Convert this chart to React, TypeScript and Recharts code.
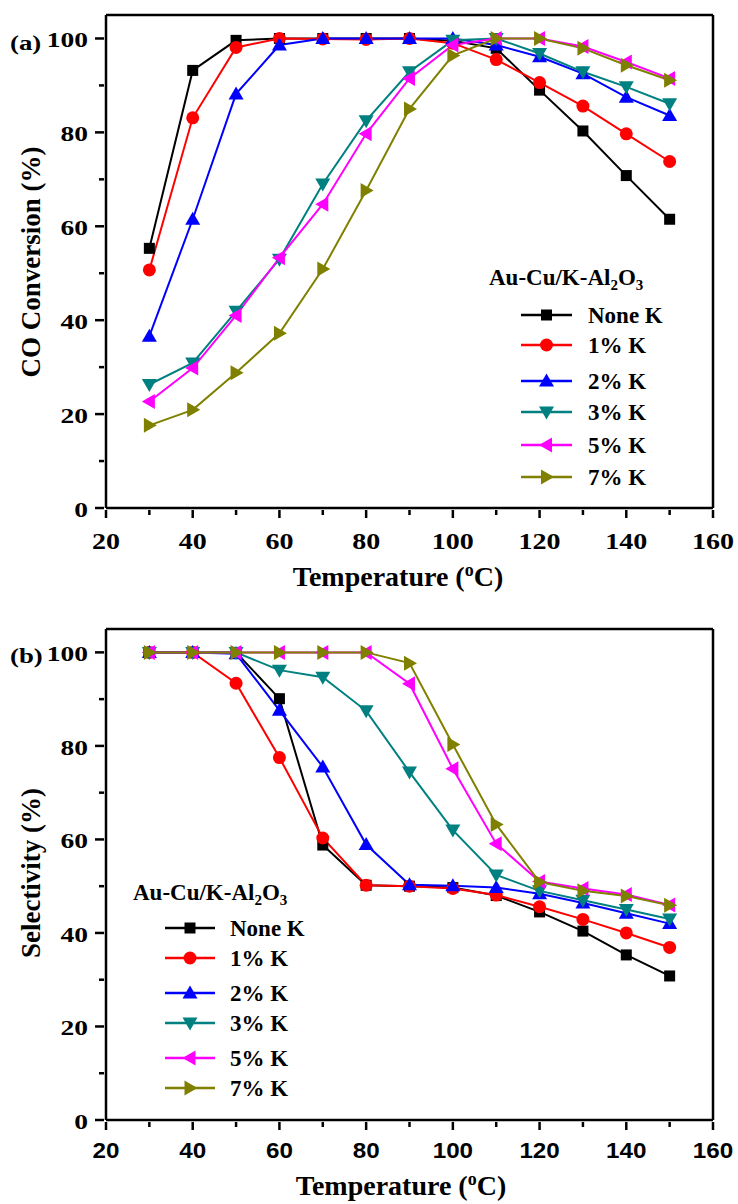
import React from 'react'
import { LineChart, Line, XAxis, YAxis, ReferenceLine } from 'recharts'

const temps = [30, 40, 50, 60, 70, 80, 90, 100, 110, 120, 130, 140, 150]
const xTicks = [20, 30, 40, 50, 60, 70, 80, 90, 100, 110, 120, 130, 140, 150, 160]
const yTicks = [0, 10, 20, 30, 40, 50, 60, 70, 80, 90, 100]

const seriesNames = ['None K', '1% K', '2% K', '3% K', '5% K', '7% K']
const seriesColors = ['#000000', '#ff0000', '#0000ff', '#008080', '#ff00ff', '#808000']
const seriesShapes = ['square', 'circle', 'up', 'down', 'left', 'right']

// (a) CO conversion, %
const convNoneK = [55.3, 93.2, 99.6, 100, 100, 100, 100, 99.5, 97.9, 89, 80.3, 70.8, 61.5]
const conv1K = [50.7, 83.1, 98.1, 100, 99.9, 99.8, 100, 99, 95.5, 90.6, 85.6, 79.7, 73.8]
const conv2K = [36.6, 61.5, 88.2, 98.6, 100, 100, 100, 100, 98.6, 96.1, 92.5, 87.5, 83.6]
const conv3K = [26.3, 30.9, 41.9, 53, 69, 82.5, 92.9, 99.6, 100, 96.8, 92.9, 89.7, 86.1]
const conv5K = [22.7, 29.8, 41, 53.3, 64.7, 79.7, 91.5, 98.6, 100, 100, 98.3, 95, 91.5]
const conv7K = [17.6, 20.9, 28.8, 37.2, 50.9, 67.6, 85, 96.4, 100, 100, 97.9, 94.3, 91.1]

// (b) selectivity, %
const selNoneK = [100, 100, 100, 90.1, 58.8, 50.2, 50, 49.7, 48, 44.5, 40.4, 35.3, 30.8]
const sel1K = [100, 100, 93.4, 77.5, 60.3, 50.2, 50, 49.5, 48.1, 45.6, 42.9, 40, 36.9]
const sel2K = [100, 100, 99.7, 87.6, 75.5, 58.9, 50.3, 50.1, 49.7, 48.4, 46.4, 44.2, 42]
const sel3K = [100, 100, 100, 96.2, 94.7, 87.5, 74.4, 62, 52.4, 49, 47, 45, 43]
const sel5K = [100, 100, 100, 100, 100, 100, 93.3, 75.1, 59.1, 51, 49.5, 48.2, 46]
const sel7K = [100, 100, 100, 100, 100, 100, 97.7, 80.3, 63.2, 50.9, 49, 47.9, 45.9]

const convSeries = [convNoneK, conv1K, conv2K, conv3K, conv5K, conv7K]
const selSeries = [selNoneK, sel1K, sel2K, sel3K, sel5K, sel7K]

const toRows = (series: number[][]) =>
  temps.map((t, i) => {
    const row: Record<string, number> = { t }
    series.forEach((s, k) => (row['s' + k] = s[i]))
    return row
  })

const convData = toRows(convSeries)
const selData = toRows(selSeries)

const SERIF = '"Liberation Serif", "Times New Roman", serif'
const SANS = '"Liberation Sans", Arial, sans-serif'

function Marker({ shape, cx, cy, color }: { shape: string; cx: number; cy: number; color: string }) {
  if (cx == null || cy == null) return null
  switch (shape) {
    case 'square':
      return <rect x={cx - 5.5} y={cy - 5.5} width={11} height={11} fill={color} />
    case 'circle':
      return <circle cx={cx} cy={cy} r={6.5} fill={color} />
    case 'up':
      return <polygon points={`${cx},${cy - 7.5} ${cx + 7.5},${cy + 5.5} ${cx - 7.5},${cy + 5.5}`} fill={color} />
    case 'down':
      return <polygon points={`${cx},${cy + 7.5} ${cx + 7.5},${cy - 5.5} ${cx - 7.5},${cy - 5.5}`} fill={color} />
    case 'left':
      return <polygon points={`${cx - 7.5},${cy} ${cx + 5.5},${cy - 7.5} ${cx + 5.5},${cy + 7.5}`} fill={color} />
    default:
      return <polygon points={`${cx + 7.5},${cy} ${cx - 5.5},${cy - 7.5} ${cx - 5.5},${cy + 7.5}`} fill={color} />
  }
}

function XTick(props: any) {
  const { x, y, payload, sans } = props
  const v = payload.value
  const major = v % 20 === 0
  return (
    <g>
      <line x1={x} x2={x} y1={y} y2={y + (major ? 8 : 5)} stroke="#000" strokeWidth={2.5} />
      {major && (
        <text
          transform={`translate(${x},${y + (sans ? 36 : 39)}) scale(${sans ? 1.1 : 1.22},1)`}
          textAnchor="middle"
          fontFamily={sans ? SANS : SERIF}
          fontWeight="bold"
          fontSize={sans ? 22 : 23}
          fill="#000"
        >
          {v}
        </text>
      )}
    </g>
  )
}

function YTick(props: any) {
  const { x, y, payload } = props
  const v = payload.value
  const major = v % 20 === 0
  return (
    <g>
      <line x1={x} x2={x - (major ? 9 : 5)} y1={y} y2={y} stroke="#000" strokeWidth={2.5} />
      {major && (
        <text
          transform={`translate(${x - 16},${y + 9}) scale(1.25,1)`}
          textAnchor="end"
          fontFamily={SERIF}
          fontWeight="bold"
          fontSize={22}
          fill="#000"
        >
          {v}
        </text>
      )}
    </g>
  )
}

function Panel({ data, top, height, plotTop, plotBottom, sansX }: any) {
  return (
    <div style={{ position: 'absolute', left: 0, top, width: 738, height }}>
      <LineChart
        width={738}
        height={height}
        data={data}
        margin={{ top: plotTop, right: 25, bottom: height - plotBottom - 30, left: 46 }}
      >
        <XAxis
          dataKey="t"
          type="number"
          domain={[20, 160]}
          ticks={xTicks}
          interval={0}
          height={30}
          tickSize={0}
          tickLine={false}
          axisLine={{ stroke: '#000', strokeWidth: 2.5 }}
          tick={(p: any) => <XTick {...p} sans={sansX} />}
        />
        <YAxis
          type="number"
          domain={[0, 105]}
          ticks={yTicks}
          interval={0}
          width={60}
          tickSize={0}
          tickLine={false}
          axisLine={{ stroke: '#000', strokeWidth: 2.5 }}
          tick={(p: any) => <YTick {...p} />}
        />
        <ReferenceLine y={105} stroke="#000" strokeWidth={2.5} />
        <ReferenceLine x={160} stroke="#000" strokeWidth={2.5} />
        {seriesNames.map((name, k) => (
          <Line
            key={name}
            dataKey={'s' + k}
            name={name}
            stroke={seriesColors[k]}
            strokeWidth={2}
            isAnimationActive={false}
            dot={(p: any) => (
              <Marker key={'d' + k + '-' + p.index} shape={seriesShapes[k]} cx={p.cx} cy={p.cy} color={seriesColors[k]} />
            )}
            activeDot={false}
          />
        ))}
      </LineChart>
    </div>
  )
}

function LegendBlock({ titleX, titleY, lineX1, lineX2, textX, rows }: any) {
  return (
    <g>
      <text x={titleX} y={titleY} fontFamily={SERIF} fontWeight="bold" fontSize={23} fill="#000">
        Au-Cu/K-Al
        <tspan fontSize={15} dy={5}>2</tspan>
        <tspan dy={-5}>O</tspan>
        <tspan fontSize={15} dy={5}>3</tspan>
      </text>
      {seriesNames.map((name, k) => (
        <g key={name}>
          <line x1={lineX1} x2={lineX2} y1={rows[k]} y2={rows[k]} stroke={seriesColors[k]} strokeWidth={2.5} />
          <Marker shape={seriesShapes[k]} cx={(lineX1 + lineX2) / 2} cy={rows[k]} color={seriesColors[k]} />
          <text x={textX} y={rows[k] + 8} fontFamily={SERIF} fontWeight="bold" fontSize={23} fill="#000">
            {name}
          </text>
        </g>
      ))}
    </g>
  )
}

export default function App() {
  return (
    <div style={{ position: 'absolute', left: 0, top: 0, width: 738, height: 1204, background: '#fff' }}>
      <Panel data={convData} top={0} height={600} plotTop={15} plotBottom={508} sansX={false} />
      <Panel data={selData} top={600} height={604} plotTop={29} plotBottom={520} sansX={true} />
      <svg
        width={738}
        height={1204}
        style={{ position: 'absolute', left: 0, top: 0, pointerEvents: 'none' }}
      >
        <g fontFamily={SERIF} fontWeight="bold" fill="#000">
          <text transform="translate(10,50) scale(1.22,1)" fontSize={22}>(a)</text>
          <text transform="translate(10,663) scale(1.22,1)" fontSize={22}>(b)</text>
          <text x={398} y={586} textAnchor="middle" fontSize={28}>
            Temperature (<tspan fontSize={18} dy={-10}>o</tspan><tspan dy={10}>C)</tspan>
          </text>
          <text x={401} y={1195} textAnchor="middle" fontSize={28}>
            Temperature (<tspan fontSize={18} dy={-10}>o</tspan><tspan dy={10}>C)</tspan>
          </text>
          <text transform="translate(40,262) rotate(-90)" textAnchor="middle" fontSize={27}>
            CO Conversion (%)
          </text>
          <text transform="translate(40,873) rotate(-90)" textAnchor="middle" fontSize={27}>
            Selectivity (%)
          </text>
        </g>
        <LegendBlock titleX={489} titleY={285} lineX1={521} lineX2={572} textX={588} rows={[315, 345, 381, 412, 445, 477]} />
        <LegendBlock titleX={133} titleY={900} lineX1={165} lineX2={215} textX={230} rows={[928, 958, 993, 1023, 1058, 1088]} />
      </svg>
    </div>
  )
}
